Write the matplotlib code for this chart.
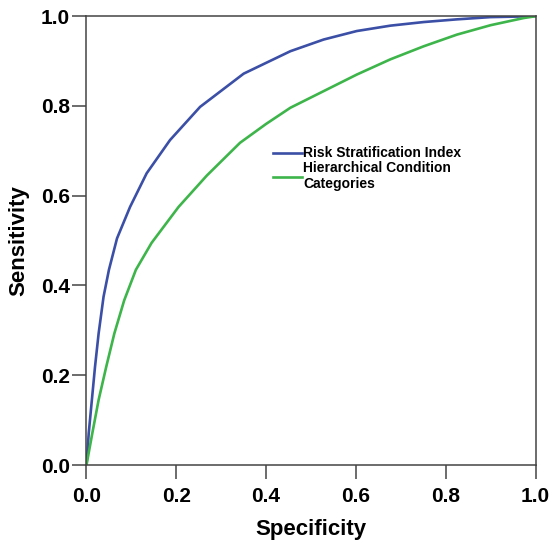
import matplotlib
matplotlib.use("Agg")
import matplotlib.pyplot as plt

# ROC curves (x axis labelled "Specificity")
rsi_x = [0, 0.005, 0.012, 0.019, 0.027, 0.038, 0.050, 0.068, 0.097, 0.134, 0.186,
         0.253, 0.350, 0.454, 0.528, 0.602, 0.677, 0.751, 0.825, 0.900, 1.0]
rsi_y = [0, 0.071, 0.145, 0.219, 0.293, 0.375, 0.435, 0.505, 0.575, 0.650, 0.724,
         0.798, 0.872, 0.922, 0.948, 0.967, 0.979, 0.987, 0.993, 0.998, 1.0]

hcc_x = [0, 0.013, 0.027, 0.044, 0.062, 0.084, 0.110, 0.145, 0.205, 0.268, 0.342,
         0.400, 0.454, 0.528, 0.602, 0.677, 0.751, 0.825, 0.900, 0.974, 1.0]
hcc_y = [0, 0.071, 0.145, 0.219, 0.293, 0.367, 0.435, 0.495, 0.575, 0.645, 0.718,
         0.760, 0.796, 0.833, 0.870, 0.904, 0.933, 0.959, 0.980, 0.996, 1.0]

labels = ["Risk Stratification Index", "Hierarchical Condition\nCategories"]
ticks = [0.0, 0.2, 0.4, 0.6, 0.8, 1.0]

plt.rcParams["font.family"] = ["Liberation Sans", "DejaVu Sans"]

fig = plt.figure(figsize=(5.53, 5.44), dpi=100)
ax = fig.add_axes([0.1564, 0.1452, 0.812, 0.825])

ax.plot(rsi_x, rsi_y, color="#3b4fa6", lw=1.9, label=labels[0],
        solid_joinstyle="round")
ax.plot(hcc_x, hcc_y, color="#3db54a", lw=1.9, label=labels[1],
        solid_joinstyle="round")

ax.set_xlim(0, 1)
ax.set_ylim(0, 1)
ax.set_xticks(ticks)
ax.set_yticks(ticks)
ax.set_xticklabels(["%.1f" % t for t in ticks], fontsize=15, fontweight="bold")
ax.set_yticklabels(["%.1f" % t for t in ticks], fontsize=15, fontweight="bold")
ax.tick_params(axis="both", direction="out", length=10, width=1.1,
               color="#444444", pad=2)
ax.tick_params(axis="x", pad=6)
for s in ax.spines.values():
    s.set_color("#444444")
    s.set_linewidth(1.1)

ax.set_xlabel("Specificity", fontsize=16, fontweight="bold", labelpad=9)
ax.set_ylabel("Sensitivity", fontsize=16, fontweight="bold", labelpad=8)

leg = ax.legend(loc="upper left", bbox_to_anchor=(0.415, 0.71), frameon=False,
                prop={"weight": "bold", "size": 10}, handlelength=2.1,
                handletextpad=0.1, labelspacing=0.05, borderpad=0,
                borderaxespad=0)

fig.savefig("out.png", dpi=100, facecolor="white")
